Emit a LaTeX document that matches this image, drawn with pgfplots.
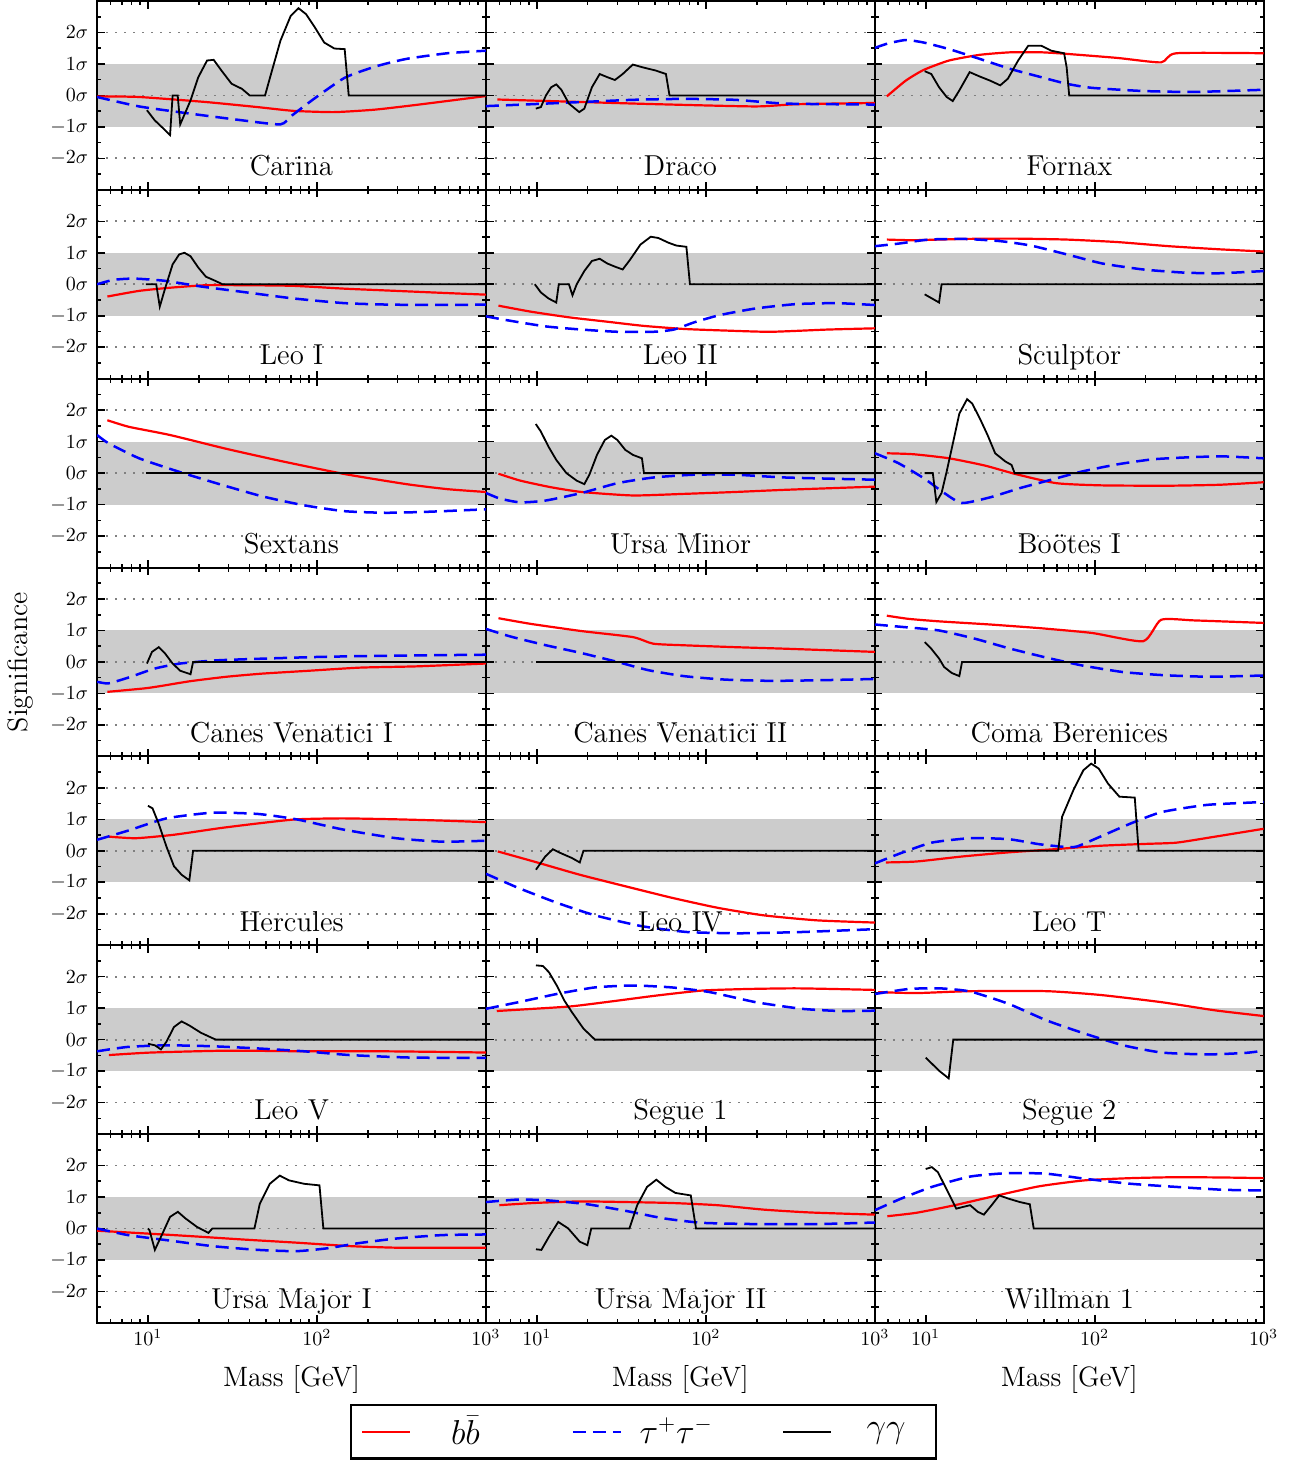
\documentclass[border=0pt]{standalone}
\usepackage{pgfplots}
\pgfplotsset{compat=1.18}
\usepgfplotslibrary{groupplots}
\usetikzlibrary{calc}
\definecolor{bandgray}{gray}{0.8}
\newcommand{\BB}[1]{\addplot[red, line width=1.1pt, smooth, tension=0.35] coordinates {#1};}
\newcommand{\TT}[1]{\addplot[blue, line width=1.25pt, dash pattern=on 6.5pt off 3.5pt, smooth, tension=0.35] coordinates {#1};}
\newcommand{\GG}[1]{\addplot[black, line width=0.9pt] coordinates {#1};}
\newcommand{\band}{\addplot[draw=none, fill=bandgray, on layer=axis background, forget plot] coordinates {(0.69897,-1) (3,-1) (3,1) (0.69897,1)} -- cycle;}
\newcommand{\ptitle}[1]{\node[anchor=base, font=\fontsize{14.4}{17}\selectfont] at (rel axis cs:0.5,0.075) {#1};}
\pgfplotsset{
  panel/.style={
    scale only axis, width=194.3pt, height=94.35pt,
    xmin=0.69897, xmax=3, ymin=-3, ymax=3,
    set layers,
    xtick={1,2,3},
    minor xtick={0.778,0.845,0.903,0.954,1.301,1.477,1.602,1.699,1.778,1.845,1.903,1.954,2.301,2.477,2.602,2.699,2.778,2.845,2.903,2.954},
    ytick={-2,-1,0,1,2},
    minor ytick={-2.5,-1.5,-0.5,0.5,1.5,2.5},
    xticklabels={}, yticklabels={},
    xtick pos=both, ytick pos=both, tick align=inside,
    major tick length=3.8pt, minor tick length=2pt,
    every tick/.style={black, line width=0.8pt},
    axis line style={line width=1pt},
    extra y ticks={-2,0,2}, extra y tick labels={},
    extra y tick style={grid=major, major grid style={gray, line width=0.9pt, dash pattern=on 1pt off 3.5pt}},
    xticklabel style={anchor=base, yshift=-11.5pt},
    yticklabel style={xshift=-1pt},
  },
  leftcol/.style={yticklabels={$-2\sigma$,$-1\sigma$,$0\sigma$,$1\sigma$,$2\sigma$}},
  bottomrow/.style={xticklabels={$10^1$,$10^2$,$10^3$}, xlabel={Mass [GeV]},
    xlabel style={at={(axis description cs:0.5,0)}, anchor=base, yshift=-32pt, font=\fontsize{14}{17}\selectfont}},
}
\begin{document}
\begin{tikzpicture}
\begin{groupplot}[group style={group name=G, group size=3 by 7, horizontal sep=0pt, vertical sep=0pt}, panel]
% ---------- Row 1
\nextgroupplot[leftcol]
\band
\BB{(0.699,-0.03)(0.948,-0.05)(1.343,-0.21)(1.647,-0.37)(1.860,-0.49)(2.103,-0.53)(2.347,-0.45)(2.620,-0.28)(3,-0.02)}
\TT{(0.699,-0.05)(0.948,-0.35)(1.252,-0.58)(1.556,-0.79)(1.784,-0.92)(1.854,-0.63)(1.982,-0.11)(2.164,0.56)(2.347,0.92)(2.529,1.16)(2.772,1.34)(3,1.42)}
\GG{(0.994,-0.47)(1.040,-0.79)(1.085,-1.02)(1.131,-1.26)(1.146,0)(1.176,0)(1.191,-0.92)(1.252,-0.16)(1.298,0.58)(1.350,1.11)(1.389,1.13)(1.435,0.79)(1.495,0.37)(1.556,0.21)(1.602,0)(1.693,0)(1.723,0.58)(1.784,1.74)(1.845,2.53)(1.891,2.77)(1.936,2.58)(1.982,2.21)(2.043,1.68)(2.103,1.49)(2.164,1.47)(2.188,0)(3,0)}
\ptitle{Carina}
\nextgroupplot
\band
\BB{(0.767,-0.13)(1.266,-0.21)(1.719,-0.28)(2.293,-0.35)(2.535,-0.28)(3,-0.24)}
\TT{(0.699,-0.34)(0.964,-0.28)(1.266,-0.21)(1.568,-0.14)(1.870,-0.11)(2.172,-0.14)(2.474,-0.26)(3,-0.29)}
\GG{(0.994,-0.42)(1.024,-0.37)(1.054,0)(1.085,0.26)(1.115,0.35)(1.145,0.18)(1.190,-0.26)(1.251,-0.53)(1.281,-0.42)(1.326,0.26)(1.372,0.68)(1.417,0.58)(1.462,0.49)(1.508,0.68)(1.568,0.98)(1.628,0.89)(1.704,0.79)(1.764,0.68)(1.785,0)(3,0)}
\ptitle{Draco}
\nextgroupplot
\band
\BB{(0.770,-0.03)(0.882,0.47)(0.988,0.81)(1.139,1.11)(1.320,1.29)(1.502,1.37)(1.683,1.37)(1.834,1.32)(2.136,1.19)(2.393,1.05)(2.483,1.34)(3,1.34)}
\TT{(0.699,1.51)(0.776,1.65)(0.882,1.76)(0.988,1.68)(1.139,1.47)(1.320,1.16)(1.502,0.84)(1.683,0.58)(1.834,0.37)(1.985,0.24)(2.287,0.14)(2.589,0.11)(3,0.18)}
\GG{(0.994,0.77)(1.033,0.68)(1.079,0.26)(1.124,-0.05)(1.160,-0.18)(1.199,0.16)(1.260,0.74)(1.320,0.60)(1.381,0.47)(1.441,0.32)(1.486,0.53)(1.547,1.11)(1.607,1.58)(1.683,1.58)(1.743,1.42)(1.819,1.34)(1.834,0.89)(1.849,0)(3,0)}
\ptitle{Fornax}
% ---------- Row 2
\nextgroupplot[leftcol]
\band
\BB{(0.760,-0.39)(0.948,-0.21)(1.131,-0.11)(1.343,-0.03)(1.556,-0.03)(1.860,-0.05)(2.164,-0.14)(2.468,-0.21)(2.772,-0.28)(3,-0.33)}
\TT{(0.699,0)(0.796,0.14)(0.918,0.18)(1.100,0.11)(1.313,-0.07)(1.556,-0.24)(1.860,-0.45)(2.164,-0.60)(2.468,-0.65)(3,-0.65)}
\GG{(0.988,0)(1.049,0)(1.070,-0.71)(1.100,-0.16)(1.146,0.63)(1.185,0.95)(1.216,1.0)(1.252,0.89)(1.298,0.53)(1.343,0.24)(1.398,0.11)(1.441,0)(3,0)}
\ptitle{Leo I}
\nextgroupplot
\band
\BB{(0.773,-0.68)(0.964,-0.87)(1.190,-1.05)(1.417,-1.19)(1.628,-1.32)(1.870,-1.42)(2.112,-1.47)(2.384,-1.51)(2.716,-1.44)(3,-1.40)}
\TT{(0.699,-1.02)(0.843,-1.16)(1.054,-1.34)(1.266,-1.44)(1.477,-1.51)(1.689,-1.51)(1.810,-1.44)(1.931,-1.21)(2.082,-0.98)(2.293,-0.77)(2.535,-0.63)(2.776,-0.60)(3,-0.66)}
\GG{(0.988,0)(1.024,-0.26)(1.069,-0.45)(1.115,-0.58)(1.130,0)(1.190,0)(1.211,-0.35)(1.236,0)(1.281,0.42)(1.326,0.74)(1.372,0.81)(1.417,0.66)(1.462,0.56)(1.508,0.47)(1.553,0.79)(1.613,1.26)(1.674,1.51)(1.719,1.47)(1.779,1.32)(1.825,1.23)(1.885,1.19)(1.906,0)(3,0)}
\ptitle{Leo II}
\nextgroupplot
\band
\BB{(0.770,1.42)(0.927,1.40)(1.230,1.44)(1.532,1.45)(1.834,1.42)(2.136,1.34)(2.438,1.21)(2.740,1.11)(3,1.04)}
\TT{(0.699,1.21)(0.837,1.29)(1.018,1.42)(1.230,1.44)(1.441,1.37)(1.622,1.23)(1.834,0.95)(2.045,0.66)(2.287,0.47)(2.529,0.37)(2.740,0.35)(3,0.42)}
\GG{(0.994,-0.32)(1.079,-0.58)(1.094,0)(3,0)}
\ptitle{Sculptor}
% ---------- Row 3
\nextgroupplot[leftcol]
\band
\BB{(0.760,1.68)(0.888,1.47)(1.131,1.21)(1.465,0.77)(1.799,0.37)(2.164,-0.03)(2.529,-0.35)(2.772,-0.51)(3,-0.60)}
\TT{(0.699,1.21)(0.766,0.95)(0.948,0.47)(1.191,0.03)(1.435,-0.37)(1.678,-0.74)(1.921,-1.02)(2.164,-1.21)(2.407,-1.26)(2.650,-1.23)(3,-1.15)}
\GG{(0.988,0)(3,0)}
\ptitle{Sextans}
\nextgroupplot
\band
\BB{(0.773,-0.02)(0.903,-0.24)(1.085,-0.45)(1.266,-0.60)(1.568,-0.71)(1.870,-0.66)(2.172,-0.60)(2.474,-0.53)(3,-0.43)}
\TT{(0.699,-0.63)(0.782,-0.81)(0.903,-0.93)(1.054,-0.87)(1.266,-0.63)(1.477,-0.32)(1.689,-0.14)(1.931,-0.05)(2.172,-0.05)(2.474,-0.14)(3,-0.21)}
\GG{(0.994,1.56)(1.024,1.32)(1.069,0.84)(1.115,0.42)(1.175,0)(1.236,-0.24)(1.281,-0.35)(1.311,-0.05)(1.356,0.58)(1.402,1.05)(1.441,1.19)(1.477,1.05)(1.523,0.74)(1.568,0.58)(1.622,0.47)(1.634,0)(3,0)}
\ptitle{Ursa Minor}
\nextgroupplot
\band
\BB{(0.770,0.63)(0.927,0.60)(1.139,0.47)(1.350,0.24)(1.532,-0.03)(1.773,-0.32)(2.045,-0.39)(2.438,-0.40)(2.740,-0.37)(3,-0.29)}
\TT{(0.699,0.63)(0.837,0.32)(0.988,-0.16)(1.109,-0.63)(1.214,-0.95)(1.381,-0.77)(1.562,-0.47)(1.743,-0.21)(1.924,0.05)(2.136,0.28)(2.347,0.44)(2.589,0.51)(2.770,0.53)(3,0.47)}
\GG{(0.994,0)(1.042,0)(1.063,-0.92)(1.094,-0.63)(1.124,0.05)(1.163,1.0)(1.199,1.89)(1.245,2.35)(1.275,2.21)(1.320,1.74)(1.366,1.21)(1.411,0.63)(1.471,0.37)(1.508,0.26)(1.526,0)(3,0)}
\ptitle{Bo\"otes I}
% ---------- Row 4
\nextgroupplot[leftcol, ylabel={Significance},
  ylabel style={at={(axis description cs:-0.198,0.5)}, anchor=center, font=\fontsize{14}{17}\selectfont}]
\band
\BB{(0.760,-0.95)(0.979,-0.84)(1.070,-0.77)(1.252,-0.61)(1.465,-0.47)(1.678,-0.37)(1.951,-0.28)(2.255,-0.18)(2.590,-0.14)(3,-0.05)}
\TT{(0.699,-0.63)(0.766,-0.68)(0.888,-0.49)(1.040,-0.21)(1.191,-0.05)(1.404,0.05)(1.708,0.11)(2.012,0.16)(2.316,0.19)(2.620,0.21)(3,0.23)}
\GG{(0.994,-0.05)(1.024,0.32)(1.064,0.47)(1.100,0.28)(1.146,-0.05)(1.191,-0.28)(1.252,-0.39)(1.267,0)(3,0)}
\ptitle{Canes Venatici I}
\nextgroupplot
\band
\BB{(0.773,1.39)(0.964,1.21)(1.266,0.98)(1.568,0.79)(1.689,0.58)(1.870,0.53)(2.172,0.47)(2.474,0.42)(3,0.32)}
\TT{(0.699,1.05)(0.843,0.81)(1.054,0.53)(1.266,0.28)(1.477,0)(1.659,-0.26)(1.870,-0.45)(2.112,-0.56)(2.384,-0.60)(2.686,-0.58)(3,-0.54)}
\GG{(0.994,0)(3,0)}
\ptitle{Canes Venatici II}
\nextgroupplot
\band
\BB{(0.770,1.47)(0.897,1.37)(1.079,1.29)(1.381,1.19)(1.683,1.07)(1.985,0.92)(2.287,0.66)(2.393,1.34)(2.589,1.32)(3,1.24)}
\TT{(0.699,1.19)(0.867,1.11)(1.079,1.0)(1.290,0.74)(1.502,0.42)(1.713,0.14)(1.924,-0.11)(2.166,-0.32)(2.408,-0.42)(2.680,-0.47)(3,-0.43)}
\GG{(0.994,0.63)(1.033,0.42)(1.079,0.11)(1.109,-0.16)(1.154,-0.35)(1.199,-0.45)(1.215,0)(3,0)}
\ptitle{Coma Berenices}
% ---------- Row 5
\nextgroupplot[leftcol]
\band
\BB{(0.769,0.45)(0.928,0.40)(1.154,0.51)(1.426,0.72)(1.652,0.87)(1.879,1.0)(2.151,1.03)(2.468,1.0)(2.740,0.96)(3,0.91)}
\TT{(0.699,0.35)(0.882,0.64)(1.109,1.03)(1.381,1.21)(1.652,1.17)(1.879,1.0)(2.151,0.68)(2.468,0.40)(2.740,0.29)(3,0.32)}
\GG{(1.0,1.43)(1.027,1.35)(1.063,0.87)(1.109,0.14)(1.154,-0.49)(1.199,-0.76)(1.245,-0.94)(1.267,0)(3,0)}
\ptitle{Hercules}
\nextgroupplot
\band
\BB{(0.769,-0.02)(0.982,-0.34)(1.254,-0.76)(1.526,-1.13)(1.797,-1.49)(2.069,-1.81)(2.341,-2.05)(2.658,-2.21)(3,-2.28)}
\TT{(0.699,-0.73)(0.891,-1.18)(1.118,-1.65)(1.344,-2.05)(1.616,-2.39)(1.888,-2.58)(2.205,-2.62)(2.568,-2.58)(3,-2.49)}
\GG{(0.995,-0.60)(1.05,-0.18)(1.095,0.05)(1.14,-0.07)(1.208,-0.23)(1.254,-0.37)(1.276,0)(3,0)}
\ptitle{Leo IV}
\nextgroupplot
\band
\BB{(0.764,-0.37)(0.946,-0.34)(1.217,-0.18)(1.489,-0.05)(1.761,0.05)(2.033,0.16)(2.305,0.22)(2.486,0.26)(2.713,0.45)(3,0.70)}
\TT{(0.699,-0.40)(0.855,-0.07)(1.036,0.26)(1.263,0.40)(1.489,0.37)(1.671,0.21)(1.829,0.12)(1.897,0.14)(2.033,0.45)(2.214,0.87)(2.396,1.23)(2.667,1.46)(3,1.55)}
\GG{(1.0,0)(1.784,0)(1.807,1.08)(1.874,1.93)(1.933,2.56)(1.979,2.77)(2.024,2.61)(2.078,2.14)(2.146,1.72)(2.237,1.69)(2.260,0)(3,0)}
\ptitle{Leo T}
% ---------- Row 6
\nextgroupplot[leftcol]
\band
\BB{(0.769,-0.49)(1.018,-0.41)(1.471,-0.35)(1.924,-0.37)(2.377,-0.37)(2.740,-0.39)(3,-0.41)}
\TT{(0.699,-0.37)(0.882,-0.23)(1.109,-0.18)(1.381,-0.21)(1.652,-0.28)(1.924,-0.37)(2.196,-0.49)(2.559,-0.57)(3,-0.58)}
\GG{(1.0,-0.13)(1.041,-0.18)(1.077,-0.31)(1.109,-0.07)(1.154,0.40)(1.199,0.58)(1.245,0.45)(1.313,0.22)(1.381,0.05)(1.403,0)(3,0)}
\ptitle{Leo V}
\nextgroupplot
\band
\BB{(0.763,0.91)(0.982,0.98)(1.208,1.06)(1.435,1.21)(1.707,1.40)(1.979,1.56)(2.251,1.61)(2.522,1.63)(2.749,1.61)(3,1.58)}
\TT{(0.699,0.98)(0.891,1.19)(1.118,1.45)(1.344,1.66)(1.571,1.72)(1.797,1.66)(2.024,1.51)(2.296,1.19)(2.568,0.98)(2.794,0.91)(3,0.92)}
\GG{(0.995,2.36)(1.036,2.34)(1.072,2.14)(1.118,1.72)(1.163,1.24)(1.208,0.87)(1.276,0.35)(1.344,0)(3,0)}
\ptitle{Segue 1}
\nextgroupplot
\band
\BB{(0.719,1.51)(0.946,1.48)(1.263,1.54)(1.716,1.54)(2.033,1.42)(2.396,1.19)(2.713,0.93)(3,0.75)}
\TT{(0.699,1.45)(0.9,1.61)(1.082,1.63)(1.263,1.53)(1.489,1.14)(1.716,0.61)(1.942,0.19)(2.169,-0.18)(2.396,-0.41)(2.667,-0.47)(2.894,-0.42)(3,-0.35)}
\GG{(1.0,-0.57)(1.036,-0.76)(1.082,-1.0)(1.136,-1.23)(1.163,0)(3,0)}
\ptitle{Segue 2}
% ---------- Row 7
\nextgroupplot[leftcol, bottomrow]
\band
\BB{(0.699,-0.07)(0.928,-0.14)(1.245,-0.24)(1.562,-0.35)(1.879,-0.45)(2.196,-0.56)(2.468,-0.61)(2.740,-0.61)(3,-0.61)}
\TT{(0.699,0)(0.882,-0.21)(1.109,-0.37)(1.381,-0.56)(1.652,-0.68)(1.879,-0.72)(2.060,-0.63)(2.241,-0.47)(2.468,-0.32)(2.740,-0.21)(3,-0.19)}
\GG{(1.0,0)(1.009,-0.05)(1.041,-0.68)(1.086,-0.16)(1.131,0.37)(1.177,0.53)(1.222,0.32)(1.290,0.05)(1.358,-0.14)(1.381,0)(1.630,0)(1.662,0.79)(1.721,1.42)(1.780,1.68)(1.834,1.53)(1.924,1.42)(2.015,1.37)(2.038,0)(3,0)}
\ptitle{Ursa Major I}
\nextgroupplot[bottomrow,
  legend columns=3,
  legend image code/.code={\draw[#1] (0pt,0pt) -- (24pt,0pt);},
  legend style={at={(-0.3496,-0.4293)}, anchor=north west, draw=black, line width=1.2pt,
    font=\fontsize{16}{19}\selectfont, inner xsep=5pt, inner ysep=5.5pt,
    nodes={text width=40pt, align=center, inner sep=0pt},
    /tikz/every odd column/.append style={column sep=7pt},
    /tikz/every even column/.append style={column sep=33pt}}]
\band
\BB{(0.778,0.74)(0.982,0.81)(1.254,0.86)(1.526,0.84)(1.797,0.81)(2.069,0.74)(2.341,0.60)(2.613,0.51)(3,0.44)}
\TT{(0.699,0.84)(0.891,0.92)(1.072,0.89)(1.299,0.77)(1.526,0.56)(1.752,0.32)(1.979,0.18)(2.296,0.14)(2.658,0.14)(3,0.19)}
\GG{(0.995,-0.66)(1.027,-0.68)(1.072,-0.26)(1.127,0.21)(1.186,0)(1.254,-0.42)(1.299,-0.53)(1.322,0)(1.548,0)(1.594,0.74)(1.652,1.32)(1.707,1.55)(1.761,1.32)(1.820,1.13)(1.911,1.05)(1.942,0)(3,0)}
\ptitle{Ursa Major II}
\legend{$b\bar{b}$,$\tau^+\tau^-$,$\gamma\gamma$}
\nextgroupplot[bottomrow]
\band
\BB{(0.773,0.39)(0.946,0.50)(1.172,0.74)(1.399,1.02)(1.671,1.34)(1.942,1.53)(2.214,1.60)(2.486,1.63)(2.758,1.62)(3,1.60)}
\TT{(0.699,0.58)(0.855,0.95)(1.036,1.32)(1.263,1.65)(1.489,1.76)(1.716,1.74)(1.942,1.58)(2.214,1.42)(2.486,1.32)(2.758,1.23)(3,1.21)}
\GG{(1.0,1.89)(1.036,1.95)(1.072,1.79)(1.127,1.21)(1.181,0.63)(1.217,0.68)(1.263,0.74)(1.308,0.53)(1.344,0.44)(1.390,0.74)(1.435,1.05)(1.489,0.95)(1.557,0.84)(1.616,0.77)(1.639,0)(3,0)}
\ptitle{Willman 1}
\end{groupplot}
\pgfresetboundingbox
\path[use as bounding box] ($(G c1r1.north west)+(-48.5pt,0.5pt)$) rectangle ($(G c3r7.south east)+(23pt,-69.5pt)$);
\end{tikzpicture}
\end{document}
